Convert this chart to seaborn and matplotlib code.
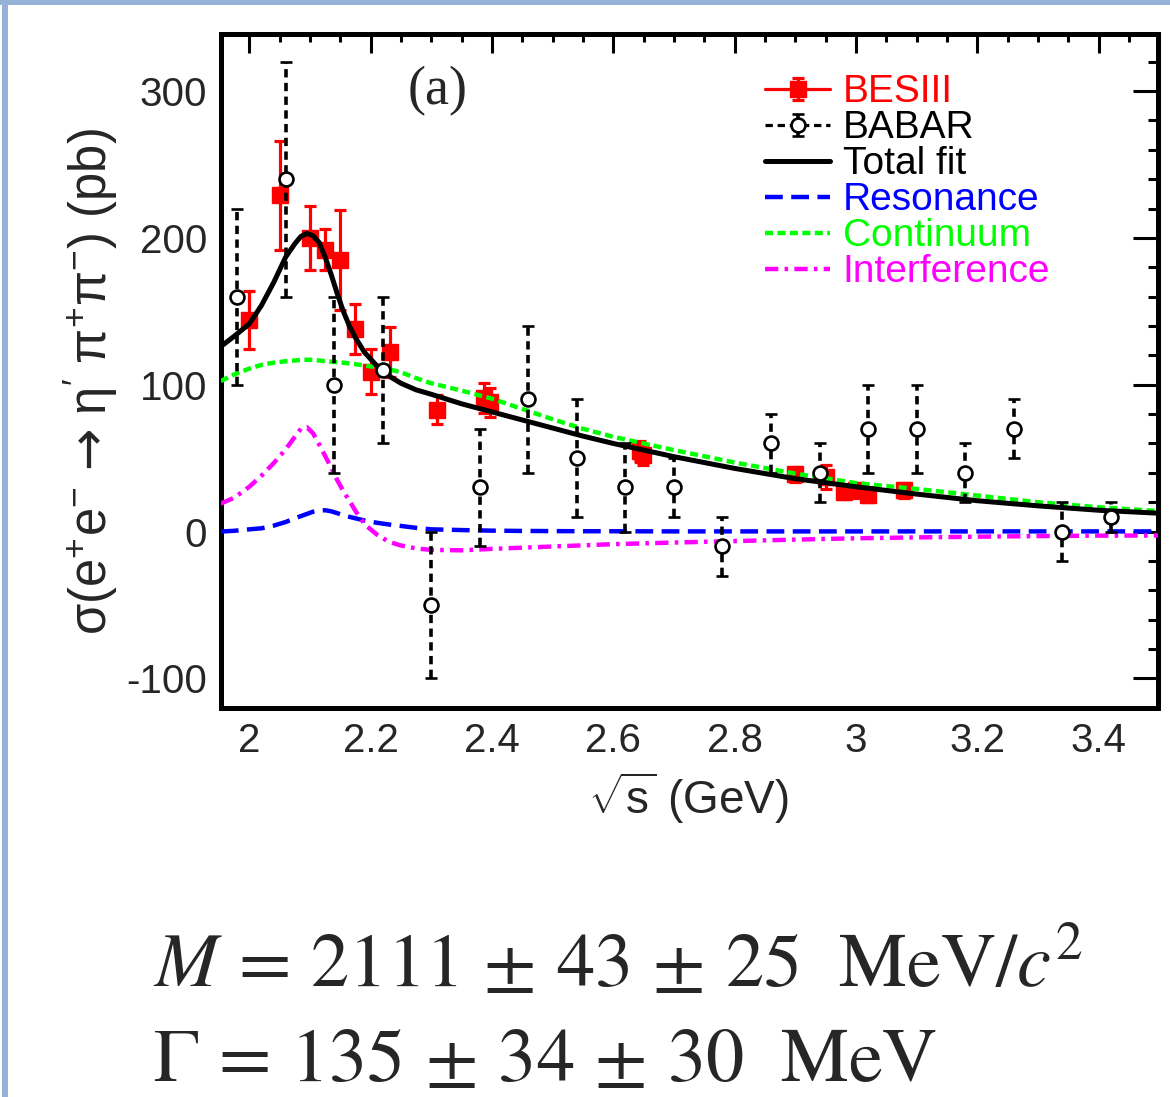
import numpy as np
import pandas as pd
import matplotlib
matplotlib.use("Agg")
import matplotlib.pyplot as plt
import seaborn as sns
from matplotlib.ticker import MultipleLocator, FuncFormatter
from matplotlib.lines import Line2D
from matplotlib.legend_handler import HandlerTuple, HandlerErrorbar
from matplotlib.container import ErrorbarContainer
from matplotlib.patches import Rectangle

# ---------------- data ----------------
besiii_x = [2.000, 2.050, 2.100, 2.125, 2.150, 2.175, 2.200, 2.2324, 2.3094,
            2.3864, 2.396, 2.644, 2.649, 2.900, 2.950, 2.981, 3.000, 3.020, 3.080]
besiii_y = [144, 229, 200, 192, 185, 138, 109, 122, 83,
            91, 88, 55, 52, 39, 37, 27, 28, 25, 28]
besiii_err = [20, 37, 22, 14, 34, 17, 15, 17, 10,
              10, 10, 7, 7, 5, 8, 5, 5, 5, 5]

babar_x = [1.98, 2.06, 2.14, 2.22, 2.30, 2.38, 2.46, 2.54, 2.62, 2.70,
           2.78, 2.86, 2.94, 3.02, 3.10, 3.18, 3.26, 3.34, 3.42]
babar_y = [160, 240, 100, 110, -50, 30, 90, 50, 30, 30,
           -10, 60, 40, 70, 70, 40, 70, 0, 10]
babar_err = [60, 80, 60, 50, 50, 40, 50, 40, 30, 20,
             20, 20, 20, 30, 30, 20, 20, 20, 10]

curve_x = [1.953, 1.975, 2.0, 2.02, 2.04, 2.06, 2.075, 2.085, 2.095, 2.105,
           2.115, 2.125, 2.135, 2.145, 2.155, 2.165, 2.175, 2.19, 2.21, 2.23,
           2.25, 2.275, 2.3, 2.35, 2.4, 2.45, 2.5, 2.55, 2.6, 2.7,
           2.8, 2.9, 3.0, 3.1, 3.2, 3.3, 3.4, 3.498]
total_fit = [126, 133, 141.5, 154, 169.5, 187, 196, 201, 203, 201.5,
             197, 187, 175, 162, 150, 140, 132, 122, 113, 106,
             101, 96.5, 93.5, 87, 81.5, 76, 70.5, 65, 60, 51,
             43, 36, 30.5, 25.5, 21, 17.5, 14.5, 12.5]
continuum = [102.5, 107, 111, 113.5, 115, 116, 116.5, 117, 117, 117,
             116.5, 116, 115.7, 115.3, 115, 114.5, 114, 113, 112, 110.5,
             108.5, 104.5, 101, 96, 90.5, 83.5, 76.5, 70, 64.5, 55.5,
             47, 39.5, 33, 29, 24.5, 20, 16.5, 14]
resonance = [0, 0.5, 1.5, 2.2, 4, 6.5, 9, 10.5, 12, 13.5,
             14.3, 14.5, 13.8, 12.5, 11, 10, 9, 7.5, 6, 4.8,
             3.8, 2.5, 1.5, 1, 0.6, 0.4, 0.3, 0.2, 0.2, 0.1,
             0.1, 0.1, 0.1, 0.1, 0.1, 0.1, 0.1, 0.1]
interference = [19, 23, 30.5, 38, 46.5, 56, 64.5, 70, 71, 67,
                59.5, 51.5, 43.5, 35, 27.5, 21, 14, 5, -2, -7,
                -9.5, -11.5, -12.5, -12.8, -11.8, -11, -10.2, -9.4, -8.6, -7.5,
                -6.5, -5.5, -4.6, -4, -3.5, -3.1, -2.8, -2.7]

legend_labels = ["BESIII", "BABAR", "Total fit", "Resonance", "Continuum", "Interference"]
legend_colors = ["#ff0000", "#000000", "#000000", "#0000ff", "#00ff00", "#ff00ff"]

# ---------------- style ----------------
sns.set_style("white")
plt.rcParams["font.family"] = ["Liberation Sans", "DejaVu Sans"]
plt.rcParams["mathtext.fontset"] = "custom"
plt.rcParams["mathtext.rm"] = "Liberation Sans"
plt.rcParams["mathtext.it"] = "Liberation Sans:italic"
plt.rcParams["mathtext.bf"] = "Liberation Sans:bold"
plt.rcParams["mathtext.sf"] = "DejaVu Sans"
plt.rcParams["axes.unicode_minus"] = False

W, H = 1170, 1097
fig = plt.figure(figsize=(W / 100, H / 100), dpi=100)
fig.patch.set_facecolor("white")

# slide frame (light blue bars)
fig.add_artist(Rectangle((0, 1 - 5 / H), 1, 5 / H, transform=fig.transFigure,
                         color="#95B3D7", lw=0, zorder=0))
fig.add_artist(Rectangle((2 / W, 0), 6 / W, 1, transform=fig.transFigure,
                         color="#95B3D7", lw=0, zorder=0))

ax_l, ax_r, ax_t, ax_b = 220.8, 1158.0, 34.0, 708.0
ax = fig.add_axes([ax_l / W, 1 - ax_b / H, (ax_r - ax_l) / W, (ax_b - ax_t) / H])
ax.set_facecolor("white")

# ---------------- BESIII ----------------
eb1 = ax.errorbar(besiii_x, besiii_y, yerr=besiii_err, fmt="s", color="#ff0000",
                  ms=11, mec="#ff0000", mfc="#ff0000", elinewidth=2.3,
                  capsize=4.5, capthick=2.3, zorder=2)

# ---------------- curves ----------------
df = pd.DataFrame({"x": curve_x, "total": total_fit, "cont": continuum,
                   "res": resonance, "intf": interference})
sns.lineplot(data=df, x="x", y="res", color="#0000ff", lw=3.2,
             linestyle=(0, (4.0, 1.9)), ax=ax, errorbar=None, sort=False,
             legend=False, zorder=3)
l_res = ax.lines[-1]
sns.lineplot(data=df, x="x", y="intf", color="#ff00ff", lw=3.2,
             linestyle=(0, (3.0, 1.4, 0.8, 1.4)), ax=ax, errorbar=None,
             sort=False, legend=False, zorder=3)
l_intf = ax.lines[-1]
sns.lineplot(data=df, x="x", y="cont", color="#00ff00", lw=3.2,
             linestyle=(0, (1.8, 1.0)), ax=ax, errorbar=None, sort=False,
             legend=False, zorder=3)
l_cont = ax.lines[-1]
sns.lineplot(data=df, x="x", y="total", color="#000000", lw=3.6,
             linestyle="-", ax=ax, errorbar=None, sort=False, legend=False,
             zorder=3)
l_tot = ax.lines[-1]

# ---------------- BABAR ----------------
eb2 = ax.errorbar(babar_x, babar_y, yerr=babar_err, fmt="o", color="black",
                  ms=10, mfc="white", mec="black", mew=1.9, elinewidth=2.6,
                  capsize=4.5, capthick=2.6, zorder=4)
for lc in eb2[2]:
    lc.set_linestyle((0, (2.3, 1.5)))

# ---------------- axes ----------------
ax.set_xlim(1.953, 3.498)
ax.set_ylim(-120.2, 338.9)
ax.xaxis.set_major_locator(MultipleLocator(0.2))
ax.xaxis.set_minor_locator(MultipleLocator(0.05))
ax.yaxis.set_major_locator(MultipleLocator(100))
ax.yaxis.set_minor_locator(MultipleLocator(20))
ax.xaxis.set_major_formatter(FuncFormatter(lambda v, p: f"{v:g}"))
ax.yaxis.set_major_formatter(FuncFormatter(lambda v, p: f"{v:g}"))

for s in ax.spines.values():
    s.set_linewidth(3.6)
    s.set_color("black")
    s.set_visible(True)

ax.tick_params(which="both", direction="in", top=True, right=True,
               width=2.2, color="black", labelsize=29)
ax.tick_params(axis="y", which="major", length=18, pad=10)
ax.tick_params(axis="y", which="minor", length=7.2)
ax.tick_params(axis="x", which="major", length=13.7, pad=10)
ax.tick_params(axis="x", which="minor", length=5.8)

ax.set_xlabel(r"$\sqrt{\mathrm{s}}$ (GeV)", fontsize=33)
ax.set_ylabel(r"$\mathrm{σ(e^{+}e^{-}\ \mathsf{→}\ η'\ π^{+}π^{-})\ (pb)}$",
              fontsize=36.5)
ax.xaxis.set_label_coords(0.4985, -0.093)
ax.yaxis.set_label_coords(-0.108, 0.484)

ax.text(0.2318, 0.9154, "(a)", transform=ax.transAxes, ha="center",
        va="center", fontsize=39, family=["Liberation Serif", "DejaVu Serif"])

# ---------------- legend ----------------
h_bes = (Line2D([], [], color="#ff0000", lw=2.3), eb1)
h_bab = (Line2D([], [], color="black", lw=2.3, linestyle=(0, (2.3, 1.5))), eb2)
handles = [h_bes, h_bab, l_tot, l_res, l_cont, l_intf]
leg = ax.legend(handles, legend_labels, loc="upper left",
                bbox_to_anchor=(0.5807, 0.940), borderaxespad=0, borderpad=0,
                frameon=False, fontsize=28, handlelength=1.67,
                handletextpad=0.33, labelspacing=0.0,
                handler_map={tuple: HandlerTuple(ndivide=1, pad=0),
                             ErrorbarContainer: HandlerErrorbar(yerr_size=0.28)})
for t, c in zip(leg.get_texts(), legend_colors):
    t.set_color(c)

# ---------------- fit results ----------------
fig.text(153 / W, 1 - 986 / H,
         r"$M\,=\,2111\,\pm\,43\,\pm\,25\ \ \mathrm{MeV}/c^{2}$",
         fontsize=55, math_fontfamily="stix", ha="left", va="baseline")
fig.text(153 / W, 1 - 1081 / H,
         r"$\Gamma\,=\,135\,\pm\,34\,\pm\,30\ \ \mathrm{MeV}$",
         fontsize=55, math_fontfamily="stix", ha="left", va="baseline")

fig.savefig("out.png", dpi=100, facecolor="white")
